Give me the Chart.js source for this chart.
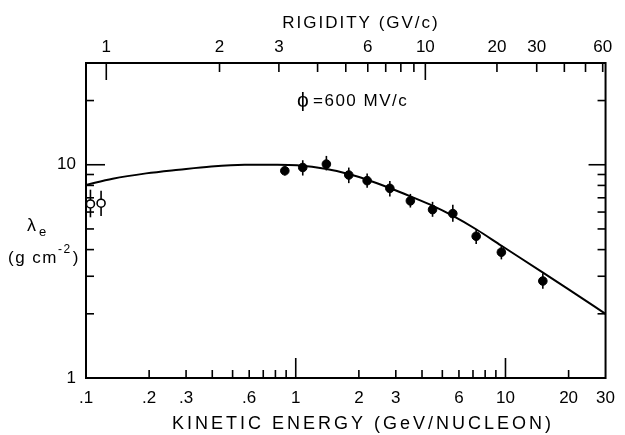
<!DOCTYPE html>
<html>
<head>
<meta charset="utf-8">
<script src="https://cdn.jsdelivr.net/npm/chart.js@4.4.1/dist/chart.umd.min.js"></script>
<style>
  body { margin: 0; background: #fff; }
  #wrap { width: 625px; height: 435px; }
</style>
</head>
<body>
<div id="wrap"><canvas id="chart"></canvas></div>
<script>
// measured points (kinetic energy in GeV/nucleon, lambda_e in g cm^-2)
const kinEnergy = [0.887, 1.08, 1.40, 1.79, 2.19, 2.81, 3.52, 4.49, 5.61, 7.25, 9.56, 15.07]
const lambdaE = [9.37, 9.71, 10.07, 8.95, 8.42, 7.75, 6.77, 6.16, 5.90, 4.62, 3.89, 2.85]
const lambdaLow = [8.9, 8.9, 9.4, 8.2, 7.8, 7.1, 6.3, 5.7, 5.4, 4.25, 3.6, 2.62]
const lambdaHigh = [9.8, 10.5, 11.0, 9.7, 9.1, 8.4, 7.3, 6.7, 6.5, 5.0, 4.2, 3.1]

// low energy points (open circles)
const lowKinEnergy = [0.105, 0.118]
const lowLambda = [6.55, 6.60]
const lowLambdaLow = [5.67, 5.75]
const lowLambdaHigh = [7.64, 7.55]

// model curve, phi = 600 MV/c
const curveT = [0.1, 0.134, 0.1935, 0.277, 0.3955, 0.571, 0.817, 1.014, 1.404, 1.786, 2.194, 2.806, 3.523, 4.483, 5.592, 7.275, 9.535, 15.03, 21.02, 30]
const curveLambda = [8.04, 8.60, 9.11, 9.48, 9.82, 10.0, 10.0, 9.94, 9.55, 9.05, 8.51, 7.78, 7.11, 6.43, 5.77, 4.97, 4.18, 3.13, 2.52, 2.00]

// tick labels
const xTickValues = [0.1, 0.2, 0.3, 0.6, 1, 2, 3, 6, 10, 20, 30]
const xTickLabels = ['.1', '.2', '.3', '.6', '1', '2', '3', '6', '10', '20', '30']
const rigidityTicks = [1, 2, 3, 6, 10, 20, 30, 60]
const rigidityLabels = ['1', '2', '3', '6', '10', '20', '30', '60']
const yTickValues = [1, 10]
const yTickLabels = ['1', '10']

// minor tick marks
const xMinor = [0.2, 0.3, 0.4, 0.5, 0.6, 0.7, 0.8, 0.9, 2, 3, 4, 5, 6, 7, 8, 9, 20]
const xMajor = [1, 10]
const rigidityMinor = [2, 3, 4, 5, 6, 7, 8, 9, 20, 30, 40, 50, 60]
const rigidityMajor = [1, 10]
const yMinor = [2, 3, 4, 5, 6, 7, 8, 9, 20]
const yMajor = [10]

// rigidity (GV/c) -> kinetic energy per nucleon, A/Z = 2
const protonMass = 0.938
const rigidityToT = (r) => Math.sqrt((r / 2) * (r / 2) + protonMass * protonMass) - protonMass

const FONT = '"Liberation Sans", Arial, sans-serif'

const errorBars = {
  id: 'errorBars',
  beforeDatasetsDraw(chart) {
    const ctx = chart.ctx
    const x = chart.scales.x
    const y = chart.scales.y
    ctx.save()
    ctx.strokeStyle = '#000'
    ctx.lineWidth = 1.6
    const bars = (ts, lo, hi) => {
      for (let i = 0; i < ts.length; i++) {
        const px = x.getPixelForValue(ts[i])
        ctx.beginPath()
        ctx.moveTo(px, y.getPixelForValue(lo[i]))
        ctx.lineTo(px, y.getPixelForValue(hi[i]))
        ctx.stroke()
      }
    }
    bars(kinEnergy, lambdaLow, lambdaHigh)
    bars(lowKinEnergy, lowLambdaLow, lowLambdaHigh)
    ctx.restore()
  }
}

const frameTicks = {
  id: 'frameTicks',
  afterDraw(chart) {
    const ctx = chart.ctx
    const a = chart.chartArea
    const x = chart.scales.x
    const y = chart.scales.y
    ctx.save()
    ctx.strokeStyle = '#000'
    ctx.lineWidth = 2
    ctx.strokeRect(a.left, a.top, a.right - a.left, a.bottom - a.top)
    ctx.lineWidth = 1.6
    const line = (x1, y1, x2, y2) => {
      ctx.beginPath()
      ctx.moveTo(x1, y1)
      ctx.lineTo(x2, y2)
      ctx.stroke()
    }
    xMinor.forEach(v => { const p = x.getPixelForValue(v); line(p, a.bottom, p, a.bottom - 8) })
    xMajor.forEach(v => { const p = x.getPixelForValue(v); line(p, a.bottom, p, a.bottom - 20) })
    rigidityMinor.forEach(r => { const p = x.getPixelForValue(rigidityToT(r)); line(p, a.top, p, a.top + 9) })
    rigidityMajor.forEach(r => { const p = x.getPixelForValue(rigidityToT(r)); line(p, a.top, p, a.top + 17) })
    yMinor.forEach(v => {
      const p = y.getPixelForValue(v)
      line(a.left, p, a.left + 8, p)
      line(a.right, p, a.right - 8, p)
    })
    yMajor.forEach(v => {
      const p = y.getPixelForValue(v)
      line(a.left, p, a.left + 19, p)
      line(a.right, p, a.right - 17, p)
    })
    ctx.restore()
  }
}

const texts = {
  id: 'texts',
  afterDraw(chart) {
    const ctx = chart.ctx
    ctx.save()
    ctx.fillStyle = '#000'
    ctx.textBaseline = 'middle'

    ctx.textAlign = 'center'
    ctx.font = '17px ' + FONT
    ctx.letterSpacing = '2px'
    ctx.fillText('RIGIDITY (GV/c)', 361, 23)

    ctx.font = '18px ' + FONT
    ctx.letterSpacing = '3px'
    ctx.fillText('KINETIC ENERGY (GeV/NUCLEON)', 363, 424)

    ctx.textAlign = 'left'
    ctx.letterSpacing = '0px'
    ctx.font = '21px ' + FONT
    ctx.fillText('ϕ', 297, 101)
    ctx.font = '17px ' + FONT
    ctx.letterSpacing = '1.5px'
    ctx.fillText('=600 MV/c', 313, 101)

    ctx.letterSpacing = '0px'
    ctx.font = '18px ' + FONT
    ctx.fillText('λ', 27, 226)
    ctx.font = '13px ' + FONT
    ctx.fillText('e', 39, 232)

    ctx.font = '17px ' + FONT
    ctx.letterSpacing = '1.5px'
    ctx.fillText('(g cm', 8, 258)
    let w = ctx.measureText('(g cm').width
    ctx.font = '12px ' + FONT
    ctx.fillText('-2', 8 + w, 250)
    w += ctx.measureText('-2').width
    ctx.font = '17px ' + FONT
    ctx.fillText(')', 8 + w + 1, 258)
    ctx.restore()
  }
}

const tickFont = { family: FONT, size: 17 }

const createChart = () => {
  const context = document.getElementById('chart').getContext('2d')

  const modelLine = []
  for (let i = 0; i < curveT.length; i++) {
    modelLine.push({ x: curveT[i], y: curveLambda[i] })
  }
  const points = []
  for (let i = 0; i < kinEnergy.length; i++) {
    points.push({ x: kinEnergy[i], y: lambdaE[i] })
  }
  const lowPoints = []
  for (let i = 0; i < lowKinEnergy.length; i++) {
    lowPoints.push({ x: lowKinEnergy[i], y: lowLambda[i] })
  }

  const chart = new Chart(context, {
    type: 'scatter',
    data: {
      datasets: [{
        label: 'phi = 600 MV/c',
        data: modelLine,
        showLine: true,
        borderColor: '#000',
        borderWidth: 2,
        pointRadius: 0,
        cubicInterpolationMode: 'monotone',
      }, {
        label: 'data',
        data: points,
        backgroundColor: '#000',
        borderColor: '#000',
        pointRadius: 4.3,
      }, {
        label: 'low energy',
        data: lowPoints,
        backgroundColor: '#fff',
        borderColor: '#000',
        borderWidth: 1.6,
        pointRadius: 4,
      }],
    },
    options: {
      responsive: true,
      maintainAspectRatio: false,
      animation: false,
      layout: { padding: { left: 0, right: 12, top: 0, bottom: 0 } },
      plugins: {
        legend: { display: false },
        tooltip: { enabled: false },
      },
      scales: {
        x: {
          type: 'logarithmic',
          position: 'bottom',
          min: 0.1,
          max: 30,
          grid: { display: false, drawTicks: false },
          border: { display: false },
          afterBuildTicks: (scale) => { scale.ticks = xTickValues.map(v => ({ value: v })) },
          afterFit: (scale) => { scale.height = 57 },
          ticks: {
            color: '#000',
            font: tickFont,
            padding: 10,
            maxRotation: 0,
            autoSkip: false,
            callback: (value, index) => xTickLabels[index],
          },
        },
        x2: {
          type: 'logarithmic',
          position: 'top',
          min: 0.1,
          max: 30,
          grid: { display: false, drawTicks: false },
          border: { display: false },
          afterBuildTicks: (scale) => { scale.ticks = rigidityTicks.map(r => ({ value: rigidityToT(r) })) },
          afterFit: (scale) => { scale.height = 63 },
          ticks: {
            color: '#000',
            font: tickFont,
            padding: 5,
            maxRotation: 0,
            autoSkip: false,
            callback: (value, index) => rigidityLabels[index],
          },
        },
        y: {
          type: 'logarithmic',
          min: 1,
          max: 30,
          grid: { display: false, drawTicks: false },
          border: { display: false },
          afterBuildTicks: (scale) => { scale.ticks = yTickValues.map(v => ({ value: v })) },
          afterFit: (scale) => { scale.width = 86 },
          ticks: {
            color: '#000',
            font: tickFont,
            padding: 10,
            autoSkip: false,
            callback: (value, index) => yTickLabels[index],
          },
        },
      },
    },
    plugins: [errorBars, frameTicks, texts],
  })
}

createChart()
</script>
</body>
</html>
